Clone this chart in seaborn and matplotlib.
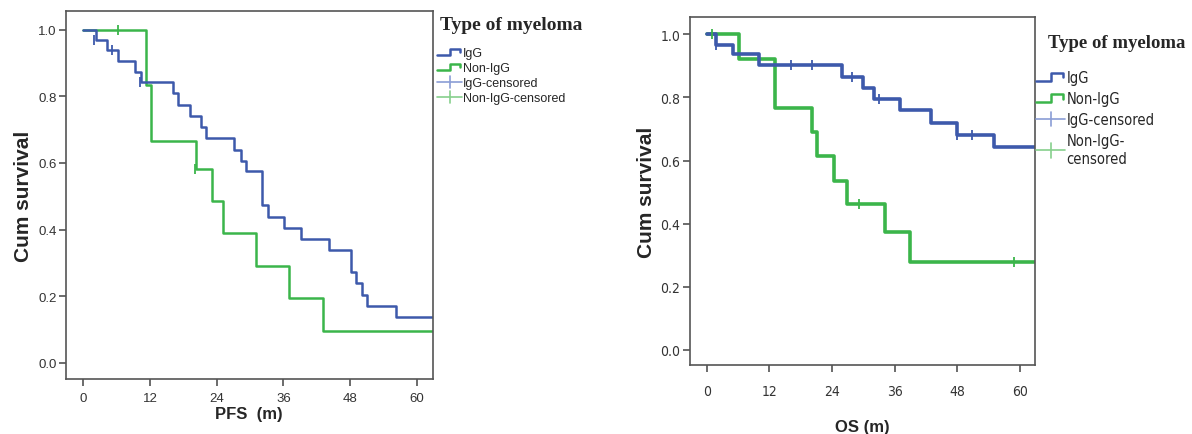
import matplotlib
matplotlib.use("Agg")
import matplotlib.pyplot as plt
import seaborn as sns
from matplotlib.legend_handler import HandlerBase
from matplotlib.lines import Line2D

# PFS (left panel)
pfs_igg_t = [0, 2.2, 4.3, 6.2, 9.2, 10.3, 16.1, 17.0, 19.1, 21.1, 22.1, 27.2, 28.3, 29.2,
             32.2, 33.2, 36.1, 39.2, 44.2, 48.2, 49.1, 50.1, 51.1, 56.2, 64]
pfs_igg_s = [1.0, 0.968, 0.938, 0.905, 0.873, 0.843, 0.809, 0.774, 0.741, 0.709, 0.675, 0.640,
             0.607, 0.575, 0.473, 0.438, 0.405, 0.371, 0.338, 0.272, 0.239, 0.204, 0.172, 0.139, 0.139]
pfs_igg_cens_t = [1.9, 5.2, 10.1]
pfs_igg_cens_s = [0.968, 0.938, 0.843]

pfs_non_t = [0, 11.3, 12.1, 20.2, 23.2, 25.1, 31.1, 37.1, 43.1, 64]
pfs_non_s = [1.0, 0.833, 0.667, 0.583, 0.486, 0.389, 0.292, 0.194, 0.097, 0.097]
pfs_non_cens_t = [6.2, 20.0]
pfs_non_cens_s = [1.0, 0.583]

# OS (right panel)
os_igg_t = [0, 1.8, 5.0, 10.0, 26.0, 30.0, 32.0, 37.0, 43.0, 48.0, 55.1, 64]
os_igg_s = [1.0, 0.966, 0.937, 0.903, 0.866, 0.831, 0.796, 0.759, 0.719, 0.682, 0.642, 0.642]
os_igg_cens_t = [1.8, 16.2, 20.1, 27.8, 33.0, 48.0, 50.9]
os_igg_cens_s = [0.966, 0.903, 0.903, 0.866, 0.796, 0.682, 0.682]

os_non_t = [0, 6.2, 13.0, 20.1, 21.1, 24.3, 26.8, 34.1, 38.9, 64]
os_non_s = [1.0, 0.921, 0.766, 0.689, 0.615, 0.536, 0.463, 0.373, 0.279, 0.279]
os_non_cens_t = [1.0, 29.2, 58.8]
os_non_cens_s = [1.0, 0.463, 0.279]

xticks = [0, 12, 24, 36, 48, 60]
yticks = [0.0, 0.2, 0.4, 0.6, 0.8, 1.0]
labels_left = ["IgG", "Non-IgG", "IgG-censored", "Non-IgG-censored"]
labels_right = ["IgG", "Non-IgG", "IgG-censored", "Non-IgG-\ncensored"]

BLUE = "#3D59AB"
GREEN = "#3BB54A"
BLUE_L = "#8A9DD6"
GREEN_L = "#86D08C"

sns.set_style("ticks")
plt.rcParams["font.family"] = ["Liberation Sans", "DejaVu Sans"]


class StepHandler(HandlerBase):
    def create_artists(self, legend, orig_handle, xdescent, ydescent, width, height, fontsize, trans):
        x0, y0 = -xdescent, -ydescent
        xs = [x0, x0 + 0.5 * width, x0 + 0.5 * width, x0 + 0.92 * width, x0 + 0.92 * width]
        ys = [y0 + 0.1 * height, y0 + 0.1 * height, y0 + 0.85 * height, y0 + 0.85 * height, y0 + 0.45 * height]
        return [Line2D(xs, ys, color=orig_handle.get_color(), lw=orig_handle.get_linewidth(), transform=trans)]


class CensorHandler(HandlerBase):
    def create_artists(self, legend, orig_handle, xdescent, ydescent, width, height, fontsize, trans):
        x0, y0 = -xdescent, -ydescent
        c = orig_handle.get_color()
        lw = orig_handle.get_linewidth()
        h = Line2D([x0, x0 + width], [y0 + height / 2] * 2, color=c, lw=lw, transform=trans)
        v = Line2D([x0 + width / 2] * 2, [y0 - 0.2 * height, y0 + 1.2 * height], color=c, lw=lw, transform=trans)
        return [h, v]


def km_panel(ax, igg, non, lw, msize, tick_font, xpad, ypad):
    for (t, s, ct, cs), col in [(non, GREEN), (igg, BLUE)]:
        sns.lineplot(x=t, y=s, drawstyle="steps-post", estimator=None, color=col, lw=lw, ax=ax)
        sns.scatterplot(x=ct, y=cs, marker="|", s=msize, color=col, linewidth=1.3, ax=ax, zorder=3)
    ax.set_xlim(-3.2, 62.9)
    ax.set_ylim(-0.048, 1.055)
    ax.set_xticks(xticks)
    ax.set_yticks(yticks)
    ax.set_yticklabels([f"{v:.1f}" for v in yticks])
    for sp in ax.spines.values():
        sp.set_visible(True)
        sp.set_color("#555555")
        sp.set_linewidth(1.2)
    ax.tick_params(length=5, width=1.1, color="#444444", labelcolor="#333333")
    ax.tick_params(axis="x", pad=xpad)
    ax.tick_params(axis="y", pad=ypad)
    for lab in ax.get_xticklabels() + ax.get_yticklabels():
        lab.set_fontproperties(tick_font)


fig = plt.figure(figsize=(11.92, 4.35), dpi=100)
W, H = 1192, 435
ax1 = fig.add_axes([65.7 / W, 1 - 380 / H, 367 / W, 367.7 / H])
ax2 = fig.add_axes([690 / W, 1 - 366 / H, 345 / W, 348 / H])

tick1 = {"family": ["Liberation Sans", "DejaVu Sans"], "size": 9.5}
tick2 = {"family": ["DejaVu Sans"], "stretch": "condensed", "size": 10}

km_panel(ax1, (pfs_igg_t, pfs_igg_s, pfs_igg_cens_t, pfs_igg_cens_s),
         (pfs_non_t, pfs_non_s, pfs_non_cens_t, pfs_non_cens_s), 1.8, 45, tick1, 4, 1.5)
km_panel(ax2, (os_igg_t, os_igg_s, os_igg_cens_t, os_igg_cens_s),
         (os_non_t, os_non_s, os_non_cens_t, os_non_cens_s), 2.6, 60, tick2, 9, 2)

ax1.set_xlabel("PFS  (m)", fontsize=12, fontweight="bold", labelpad=2)
ax1.set_ylabel("Cum survival", fontsize=15, fontweight="bold", labelpad=4)
ax2.set_xlabel("OS (m)", fontsize=12, fontweight="bold", labelpad=15)
ax2.set_ylabel("Cum survival", fontsize=15, fontweight="bold", labelpad=3)


def add_legend(x, y, tx, ty, fsize, lab_list, font, title_size, spacing):
    handles = [Line2D([], [], color=BLUE, lw=1.8), Line2D([], [], color=GREEN, lw=1.8),
               Line2D([], [], color=BLUE_L, lw=1.2), Line2D([], [], color=GREEN_L, lw=1.2)]
    hmap = {handles[0]: StepHandler(), handles[1]: StepHandler(),
            handles[2]: CensorHandler(), handles[3]: CensorHandler()}
    prop = dict(font)
    prop["size"] = fsize
    fig.legend(handles, lab_list, handler_map=hmap, loc="upper left",
               bbox_to_anchor=(x / W, 1 - y / H), bbox_transform=fig.transFigure,
               frameon=False, borderpad=0, borderaxespad=0, handlelength=2.0,
               handletextpad=0.1, labelspacing=spacing, prop=prop)
    fig.text(tx / W, 1 - ty / H, "Type of myeloma", ha="left", va="center",
             family=["Liberation Serif", "DejaVu Serif"], fontweight="bold", fontsize=title_size)


add_legend(437, 48, 440, 25, 9, labels_left, {"family": ["Liberation Sans", "DejaVu Sans"]}, 14, 0.25)
add_legend(1036, 71, 1048, 43, 10.5, labels_right,
           {"family": ["DejaVu Sans"], "stretch": "condensed"}, 13.5, 0.42)

fig.savefig("out.png", dpi=100)
